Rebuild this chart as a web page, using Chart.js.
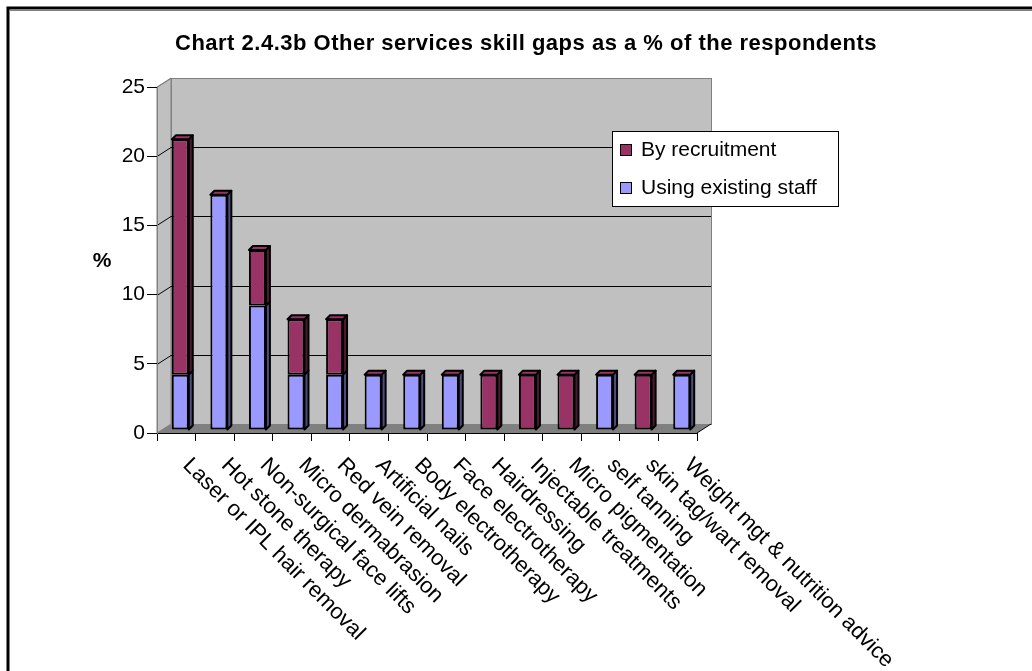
<!DOCTYPE html>
<html>
<head>
<meta charset="utf-8">
<script src="https://cdn.jsdelivr.net/npm/chart.js@4.4.1/dist/chart.umd.min.js"></script>
<style>
  body { margin: 0; background: #fff; }
  #wrap { width: 1032px; height: 671px; position: relative; }
</style>
</head>
<body>
<div id="wrap"><canvas id="skillGapsChart"></canvas></div>
<script>
const categories = [
  "Laser or IPL hair removal",
  "Hot stone therapy",
  "Non-surgical face lifts",
  "Micro dermabrasion",
  "Red vein removal",
  "Artificial nails",
  "Body electrotherapy",
  "Face electrotherapy",
  "Hairdressing",
  "Injectable treatments",
  "Micro pigmentation",
  "self tanning",
  "skin tag/wart removal",
  "Weight mgt & nutrition advice",
];
const usingExistingStaff = [4, 17, 9, 4, 4, 4, 4, 4, 0, 0, 0, 4, 0, 4];
const byRecruitment = [17, 0, 4, 4, 4, 0, 0, 0, 4, 4, 4, 0, 4, 0];
const yTicks = [0, 5, 10, 15, 20, 25];
const chartTitle = "Chart 2.4.3b Other services skill gaps as a % of the respondents";

const FONT = 'Arial, "Liberation Sans", sans-serif';
const WALL = { dx: 14, dy: -9 };
const BAR_DEPTH = 4;
const BAR_SHIFT = { x: 4, y: -3 };

function darker(hex) {
  // side faces of the columns
  return hex === "#9999FF" ? "#4D4D80" : "#4D1A33";
}

const excel3d = {
  id: "excel3d",
  beforeDraw(chart) {
    const ctx = chart.ctx;
    const a = chart.chartArea;
    const y = chart.scales.y;
    const L = a.left, R = a.right, T = a.top, B = a.bottom;
    const dx = WALL.dx, dy = WALL.dy;

    ctx.save();
    // outer frame
    ctx.strokeStyle = "#000";
    ctx.lineWidth = 3;
    ctx.strokeRect(8, 8, 1100, 800);
    ctx.strokeStyle = "#808080";
    ctx.lineWidth = 1;
    ctx.beginPath();
    ctx.moveTo(10, 10.5);
    ctx.lineTo(1032, 10.5);
    ctx.stroke();

    // title
    ctx.fillStyle = "#000";
    ctx.font = "bold 22px " + FONT;
    ctx.textAlign = "center";
    ctx.textBaseline = "alphabetic";
    if ("letterSpacing" in ctx) ctx.letterSpacing = "0.5px";
    ctx.fillText(chartTitle, 526, 50);
    if ("letterSpacing" in ctx) ctx.letterSpacing = "0px";

    // "%" axis label
    ctx.font = "bold 21px " + FONT;
    ctx.fillText("%", 102, 267);

    // left wall
    ctx.fillStyle = "#C0C0C0";
    ctx.strokeStyle = "#808080";
    ctx.beginPath();
    ctx.moveTo(L, T);
    ctx.lineTo(L + dx, T + dy);
    ctx.lineTo(L + dx, B + dy);
    ctx.lineTo(L, B);
    ctx.closePath();
    ctx.fill();
    ctx.stroke();

    // back wall
    ctx.fillRect(L + dx, T + dy, R - L, B - T);
    ctx.strokeRect(L + dx + 0.5, T + dy + 0.5, R - L, B - T);

    // floor
    ctx.fillStyle = "#808080";
    ctx.beginPath();
    ctx.moveTo(L, B);
    ctx.lineTo(L + dx, B + dy);
    ctx.lineTo(R + dx, B + dy);
    ctx.lineTo(R, B);
    ctx.closePath();
    ctx.fill();
    ctx.strokeStyle = "#000";
    ctx.beginPath();
    ctx.moveTo(R, B);
    ctx.lineTo(R + dx, B + dy);
    ctx.stroke();

    // gridlines on left and back walls
    yTicks.forEach(function (v) {
      if (v === 0) return;
      const py = Math.round(y.getPixelForValue(v)) + 0.5;
      ctx.strokeStyle = v === 25 ? "#808080" : "#000";
      ctx.beginPath();
      ctx.moveTo(L, py);
      ctx.lineTo(L + dx, py + dy);
      if (v !== 25) ctx.lineTo(R + dx, py + dy);
      ctx.stroke();
    });
    ctx.restore();
  },
  beforeDatasetsDraw(chart) {
    chart.ctx.save();
    chart.ctx.translate(BAR_SHIFT.x, BAR_SHIFT.y);
  },
  afterDatasetsDraw(chart) {
    const ctx = chart.ctx;
    const d = BAR_DEPTH;
    const sets = chart.data.datasets;
    ctx.lineWidth = 2;
    ctx.strokeStyle = "#000";
    ctx.lineJoin = "round";
    sets.forEach(function (ds, i) {
      const meta = chart.getDatasetMeta(i);
      meta.data.forEach(function (bar, j) {
        if (!ds.data[j]) return;
        const right = bar.x + bar.width / 2;
        ctx.fillStyle = darker(ds.backgroundColor);
        ctx.beginPath();
        ctx.moveTo(right, bar.y);
        ctx.lineTo(right + d, bar.y - d);
        ctx.lineTo(right + d, bar.base - d);
        ctx.lineTo(right, bar.base);
        ctx.closePath();
        ctx.fill();
        ctx.stroke();
      });
    });
    // top caps use the colour of the top series
    const topSet = sets[sets.length - 1];
    chart.getDatasetMeta(sets.length - 1).data.forEach(function (bar) {
      const left = bar.x - bar.width / 2;
      const right = bar.x + bar.width / 2;
      ctx.fillStyle = topSet.backgroundColor;
      ctx.beginPath();
      ctx.moveTo(left, bar.y);
      ctx.lineTo(left + d, bar.y - d);
      ctx.lineTo(right + d, bar.y - d);
      ctx.lineTo(right, bar.y);
      ctx.closePath();
      ctx.fill();
      ctx.stroke();
    });
    ctx.restore();
  },
  afterDraw(chart) {
    const ctx = chart.ctx;
    const x = chart.scales.x;
    ctx.save();
    ctx.fillStyle = "#000";
    ctx.font = "22px " + FONT;
    ctx.textAlign = "left";
    ctx.textBaseline = "middle";
    chart.data.labels.forEach(function (label, i) {
      const px = x.getPixelForValue(i);
      ctx.save();
      ctx.translate(px + 10, 462);
      ctx.rotate(Math.PI / 4);
      ctx.fillText(label, 0, 0);
      ctx.restore();
    });

    // legend
    ctx.font = "21px " + FONT;
    ctx.fillStyle = "#fff";
    ctx.fillRect(612, 131, 226, 75);
    ctx.strokeStyle = "#000";
    ctx.lineWidth = 1;
    ctx.strokeRect(612.5, 131.5, 226, 75);
    ctx.textBaseline = "alphabetic";
    const items = chart.data.datasets.slice().reverse();
    const rows = [156, 194];
    items.forEach(function (ds, k) {
      const base = rows[k];
      ctx.fillStyle = ds.backgroundColor;
      ctx.fillRect(620.5, base - 11.5, 11, 11);
      ctx.strokeRect(620.5, base - 11.5, 11, 11);
      ctx.fillStyle = "#000";
      ctx.fillText(ds.label, 641, base);
    });
    ctx.restore();
  },
};

const ctx = document.getElementById("skillGapsChart");

new Chart(ctx, {
  type: "bar",
  data: {
    labels: categories,
    datasets: [
      {
        label: "Using existing staff",
        data: usingExistingStaff,
        backgroundColor: "#9999FF",
        borderColor: "#000",
        borderWidth: 2,
        borderSkipped: false,
      },
      {
        label: "By recruitment",
        data: byRecruitment,
        backgroundColor: "#993366",
        borderColor: "#000",
        borderWidth: 2,
        borderSkipped: false,
      },
    ],
  },
  options: {
    responsive: true,
    maintainAspectRatio: false,
    animation: false,
    barPercentage: 0.44,
    categoryPercentage: 1.0,
    layout: {
      padding: { left: 0, top: 87, right: 335, bottom: 0 },
    },
    plugins: {
      legend: { display: false },
      title: { display: false },
      tooltip: { enabled: false },
    },
    scales: {
      x: {
        stacked: true,
        grid: {
          drawOnChartArea: false,
          drawTicks: true,
          tickLength: 8,
          color: "#000",
        },
        border: { color: "#000", width: 1 },
        ticks: { display: false },
        afterFit: function (scale) {
          scale.height = 238;
        },
      },
      y: {
        stacked: true,
        min: 0,
        max: 25,
        afterBuildTicks: function (scale) {
          scale.ticks = yTicks.map(function (v) {
            return { value: v };
          });
        },
        grid: {
          drawOnChartArea: false,
          drawTicks: true,
          tickLength: 10,
          color: "#000",
        },
        border: { color: "#808080", width: 1 },
        ticks: {
          color: "#000",
          padding: 2,
          font: { family: FONT, size: 21 },
        },
        afterFit: function (scale) {
          scale.width = 157;
        },
      },
    },
  },
  plugins: [excel3d],
});
</script>
</body>
</html>
